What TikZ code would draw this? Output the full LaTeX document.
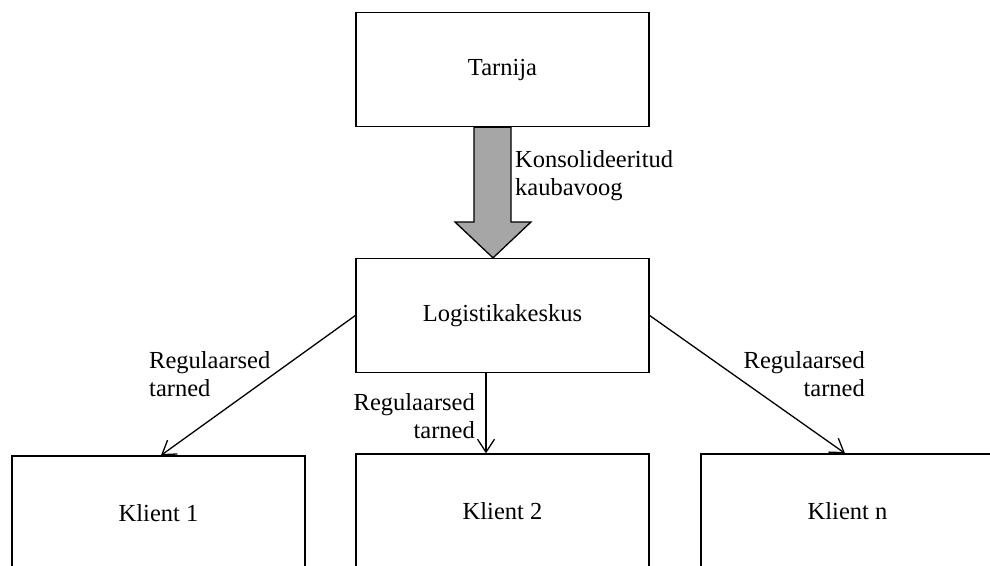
\documentclass[tikz,border=0pt]{standalone}
\usepackage{fontspec}
\setmainfont{Liberation Serif}
\usetikzlibrary{arrows.meta,calc}
\begin{document}
\begin{tikzpicture}[x=1pt,y=-1pt,
  box/.style={draw=black,line width=1.3pt,fill=white,minimum width=293pt,minimum height=114pt,inner sep=0pt,font=\fontsize{24.5}{28}\selectfont},
  lbl/.style={inner sep=0pt,font=\fontsize{24.5}{28}\selectfont},
  conn/.style={draw=black,line width=1.3pt,-{Straight Barb[length=13pt,width=17pt,line width=1.3pt]}}]
\useasboundingbox (0,0) rectangle (990,565);
\clip (0,0) rectangle (990,565);
\node[box] (T) at (502.5,69.5) {Tarnija};
\node[box] (L) at (502.5,315.5) {Logistikakeskus};
\node[box] (K1) at (158.5,513) {Klient 1};
\node[box] (K2) at (502.5,511) {Klient 2};
\node[box] (Kn) at (847.5,511) {Klient n};
% thick arrow
\draw[line width=1.3pt,fill=gray!70]
  ($(T.south)+(-28.5,0)$) -- ($(T.south)+(8.5,0)$) -- (511,222) -- (531,222)
  -- ($(L.north)+(-9.5,0)$) -- (455,222) -- (474,222) -- cycle;
\node[lbl,anchor=west,align=left] (lk) at (515,176) {Konsolideeritud\\kaubavoog};
% connectors
\draw[conn] (L.west) -- ($(K1.north)+(2.5,0)$);
\draw[conn] ($(L.south)+(-16.5,0)$) -- ($(K2.north)+(-16.5,0)$);
\draw[conn] (L.east) -- ($(Kn.north)+(-2.5,0)$);
\node[lbl,anchor=west,align=left] (l1) at (149,374) {Regulaarsed\\tarned};
\node[lbl,anchor=east,align=right] (l2) at (475,416) {Regulaarsed\\tarned};
\node[lbl,anchor=east,align=right] (l3) at (865,374) {Regulaarsed\\tarned};
\end{tikzpicture}
\end{document}
